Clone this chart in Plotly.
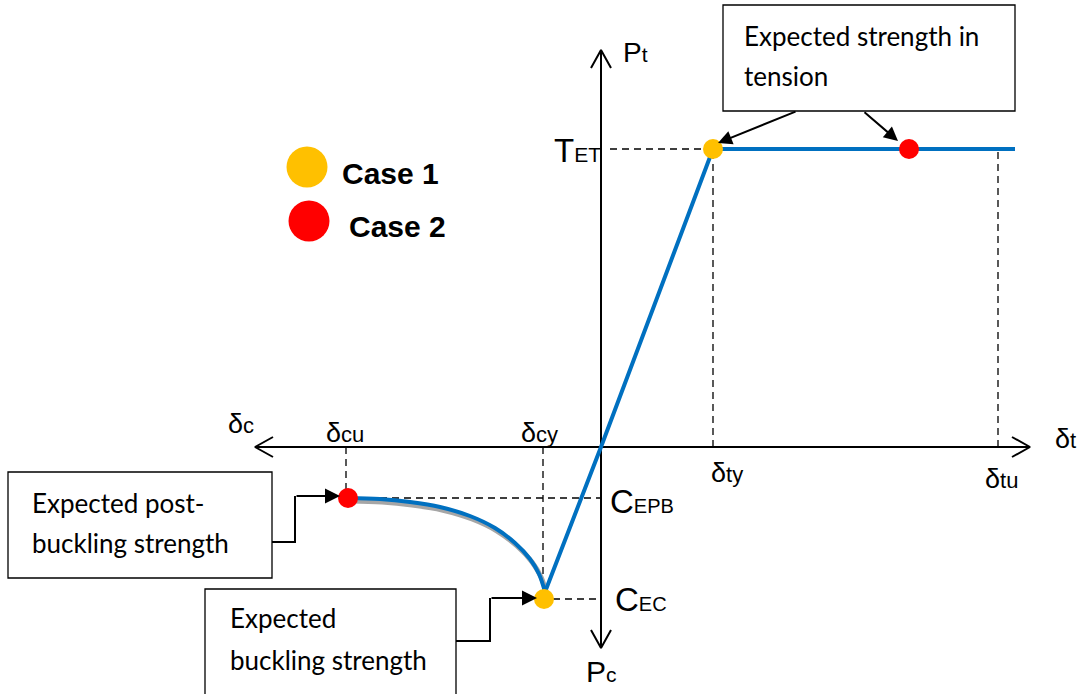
import plotly.graph_objects as go

# schematic coordinates: deformation on x, axial force on y, origin at 0
tension_x = [-56, 0, 112, 414]
tension_y = [-145, 0, 298, 298]

buckling_x = [-253, -221, -191, -161, -131, -106, -86, -71, -62, -56]
buckling_y = [-51, -52, -55, -60, -69, -81, -96, -112, -127, -145]

case_names = ['Case 1', 'Case 2']
case_colors = ['#FFC000', '#FF0000']
case1_x = [112, -57]
case1_y = [298, -152]
case2_x = [308, -253]
case2_y = [298, -51]

delta_ty, delta_tu = 112, 397
delta_cy, delta_cu = -58, -255
T_ET, C_EPB, C_EC = 298, -51, -152

axis_x = [-346, 429]
axis_y = [-201, 397]

BLUE = '#0070C0'
LBL = 'Liberation Sans'
BOX = 'Lato'

fig = go.Figure()

# axes with open arrow heads
def axis_line(xs, ys):
    fig.add_trace(go.Scatter(x=xs, y=ys, mode='lines',
                             line=dict(color='black', width=2),
                             hoverinfo='skip', showlegend=False))

axis_line(axis_x, [0, 0])
axis_line([0, 0], axis_y)
for tip in axis_x:
    s = 1 if tip > 0 else -1
    axis_line([tip - 18 * s, tip, tip - 18 * s], [10, 0, -10])
for tip in axis_y:
    s = 1 if tip > 0 else -1
    axis_line([-10, 0, 10], [tip - 18 * s, tip, tip - 18 * s])

# dashed guides
guides = [
    ([9, 104], [T_ET, T_ET]),
    ([delta_ty, delta_ty], [0, T_ET - 8]),
    ([delta_tu, delta_tu], [0, T_ET]),
    ([delta_cu, delta_cu], [0, C_EPB + 8]),
    ([delta_cu + 10, 0], [C_EPB, C_EPB]),
    ([delta_cy, delta_cy], [0, C_EC + 8]),
    ([delta_cy + 10, 0], [C_EC, C_EC]),
]
for gx, gy in guides:
    fig.add_trace(go.Scatter(x=gx, y=gy, mode='lines',
                             line=dict(color='black', width=1.3, dash='7px,5px'),
                             hoverinfo='skip', showlegend=False))

# shadow + post-buckling curve
fig.add_trace(go.Scatter(x=[v + 2 for v in buckling_x], y=[v - 3 for v in buckling_y],
                         mode='lines', line=dict(color='#A6A6A6', width=5, shape='spline'),
                         hoverinfo='skip', showlegend=False))
fig.add_trace(go.Scatter(x=buckling_x, y=buckling_y, mode='lines',
                         line=dict(color=BLUE, width=4, shape='spline'),
                         hoverinfo='skip', showlegend=False))
fig.add_trace(go.Scatter(x=tension_x, y=tension_y, mode='lines',
                         line=dict(color=BLUE, width=4),
                         hoverinfo='skip', showlegend=False))

# case points
for cx, cy, col in [(case1_x, case1_y, case_colors[0]), (case2_x, case2_y, case_colors[1])]:
    fig.add_trace(go.Scatter(x=cx, y=cy, mode='markers',
                             marker=dict(color=col, size=20, line=dict(width=0)),
                             hoverinfo='skip', showlegend=False))

# legend
legend_x = [-294, -292]
legend_y = [280, 226]
fig.add_trace(go.Scatter(x=legend_x, y=legend_y, mode='markers',
                         marker=dict(color=case_colors, size=41, line=dict(width=0)),
                         hoverinfo='skip', showlegend=False))
for lx, ly, name in zip([-261, -254], [274, 221], case_names):
    fig.add_annotation(x=lx, y=ly, text='<b>' + name + '</b>', showarrow=False,
                       xanchor='left', yanchor='middle',
                       font=dict(family=LBL, size=30, color='black'))


def sym(main, sub, ms, ss):
    return ('<span style="font-size:%dpx">%s</span>' % (ms, main) +
            '<span style="font-size:%dpx">%s</span>' % (ss, sub))


# symbol labels: x, y, main, sub, main size, sub size, anchor
labels = [
    (20, 395, 'P', 't', 28, 21, 'left'),
    (2, 297, 'T', 'ET', 33, 21, 'right'),
    (-360, 23, 'δ', 'c', 27, 22, 'center'),
    (-256, 14, 'δ', 'cu', 27, 22, 'center'),
    (-62, 14, 'δ', 'cy', 27, 22, 'center'),
    (452, 8, 'δ', 't', 27, 22, 'left'),
    (126, -26, 'δ', 'ty', 27, 22, 'center'),
    (400, -32, 'δ', 'tu', 27, 22, 'center'),
    (7, -54, 'C', 'EPB', 33, 20, 'left'),
    (12, -152, 'C', 'EC', 33, 20, 'left'),
    (0, -224, 'P', 'c', 30, 21, 'center'),
]
for lx, ly, m, s, ms, ss, anc in labels:
    fig.add_annotation(x=lx, y=ly, text=sym(m, s, ms, ss), showarrow=False,
                       xanchor=anc, yanchor='middle',
                       font=dict(family=LBL, size=ms, color='black'))

# text boxes
boxes = [
    (122, 414, 336, 442, 141, [(411, 'Expected strength in'), (371, 'tension')]),
    (-593, -329, -131, -25, -571, [(-56, 'Expected post-'), (-96, 'buckling strength')]),
    (-396, -145, -250, -142, -373, [(-171, 'Expected'), (-213, 'buckling strength')]),
]
for x0, x1, y0, y1, tx, lines in boxes:
    fig.add_shape(type='rect', x0=x0, x1=x1, y0=y0, y1=y1,
                  line=dict(color='black', width=1.3), fillcolor='white', layer='below')
    for ty, t in lines:
        fig.add_annotation(x=tx, y=ty, text=t, showarrow=False, xanchor='left', yanchor='middle',
                           font=dict(family=BOX, size=26, color='black'))

# elbow connectors
elbows = [
    ([-329, -306, -306], [-95, -95, -49], (-261, -49)),
    ([-145, -111, -111], [-194, -194, -151], (-64, -151)),
]
for ex, ey, tip in elbows:
    fig.add_trace(go.Scatter(x=ex, y=ey, mode='lines', line=dict(color='black', width=2),
                             hoverinfo='skip', showlegend=False))
    fig.add_annotation(x=tip[0], y=tip[1], ax=ex[-1], ay=ey[-1], axref='x', ayref='y',
                       text='', showarrow=True, arrowhead=2, arrowsize=1.5, arrowwidth=2,
                       arrowcolor='black')

# arrows from tension box
for (ax_, ay_), (x_, y_) in [((196, 336), (117, 304)), ((262, 336), (297, 306))]:
    fig.add_annotation(x=x_, y=y_, ax=ax_, ay=ay_, axref='x', ayref='y',
                       text='', showarrow=True, arrowhead=2, arrowsize=1.4, arrowwidth=2,
                       arrowcolor='black')

fig.update_layout(
    width=1080, height=694,
    margin=dict(l=0, r=0, t=0, b=0),
    paper_bgcolor='white', plot_bgcolor='white',
    xaxis=dict(range=[-601, 479], visible=False, fixedrange=True),
    yaxis=dict(range=[-247, 447], visible=False, fixedrange=True),
    showlegend=False,
)

fig.write_html("out.html", config={'displayModeBar': False},
               post_script="document.body.style.margin='0';")
